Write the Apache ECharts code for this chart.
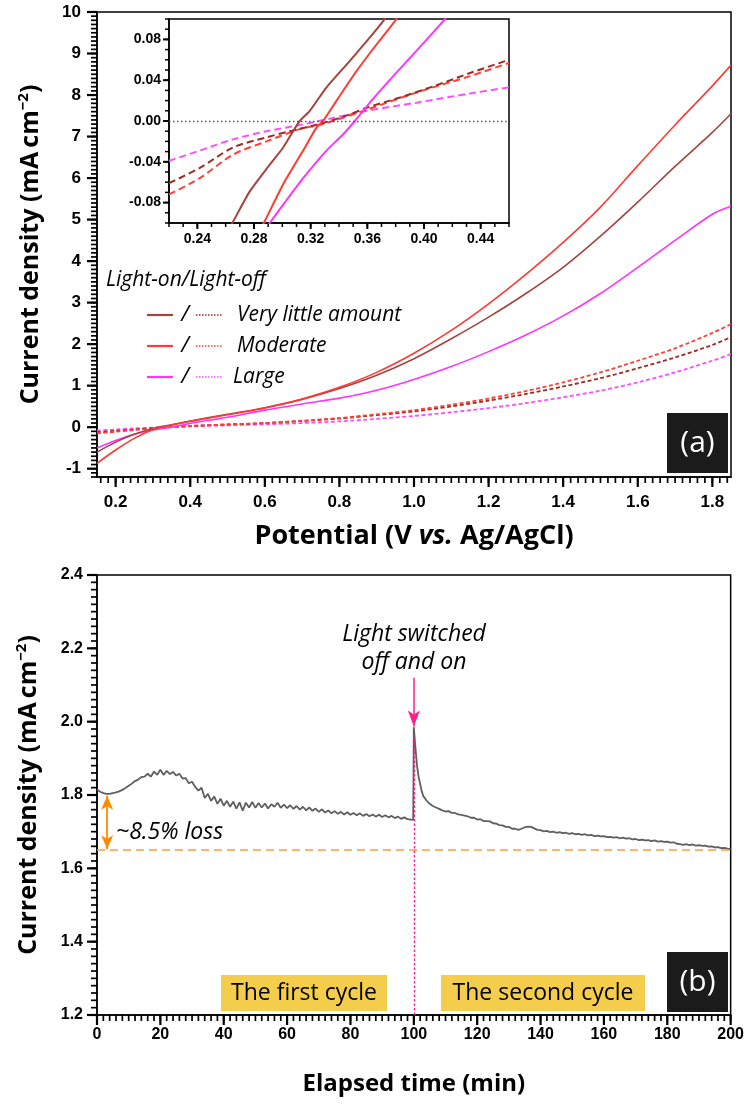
<!DOCTYPE html>
<html>
<head>
<meta charset="utf-8">
<script src="https://cdn.jsdelivr.net/npm/echarts@6.0.0/dist/echarts.min.js"></script>
<style>
html,body{margin:0;padding:0;background:#ffffff;}
#chart{width:747px;height:1112px;}
</style>
</head>
<body>
<div id="chart"></div>
<script>
// ================= Panel (a): current density vs potential =================
const potential = [0.15,0.2,0.25,0.3,0.35,0.4,0.5,0.6,0.7,0.8,0.9,1.0,1.1,1.2,1.3,1.4,1.5,1.6,1.7,1.8,1.85];
// light-on (solid)
const onVeryLittle = [-0.60,-0.36,-0.17,-0.03,0.06,0.15,0.31,0.47,0.67,0.93,1.25,1.65,2.13,2.65,3.22,3.85,4.60,5.42,6.28,7.10,7.55];
const onModerate   = [-0.87,-0.55,-0.27,-0.06,0.05,0.14,0.30,0.46,0.68,0.96,1.32,1.78,2.33,2.97,3.68,4.45,5.30,6.30,7.28,8.22,8.72];
const onLarge      = [-0.50,-0.32,-0.17,-0.07,0.00,0.09,0.24,0.41,0.56,0.70,0.89,1.15,1.46,1.82,2.22,2.68,3.22,3.85,4.50,5.13,5.32];
// light-off (dotted)
const offVeryLittle = [-0.12,-0.09,-0.055,-0.02,0.005,0.03,0.065,0.10,0.15,0.21,0.29,0.38,0.50,0.64,0.80,0.98,1.18,1.42,1.68,1.98,2.17];
const offModerate   = [-0.15,-0.11,-0.07,-0.025,0.0,0.028,0.065,0.10,0.155,0.22,0.31,0.41,0.54,0.69,0.87,1.08,1.32,1.60,1.90,2.27,2.48];
const offLarge      = [-0.08,-0.055,-0.03,-0.012,0.005,0.02,0.045,0.07,0.10,0.14,0.20,0.27,0.36,0.46,0.58,0.72,0.88,1.08,1.32,1.60,1.76];

const potentialTicks = [0.2,0.4,0.6,0.8,1.0,1.2,1.4,1.6,1.8];
const currentTicksA  = [-1,0,1,2,3,4,5,6,7,8,9,10];

// ================= Inset of panel (a) =================
const insetOnVeryLittleV = [0.262,0.2647,0.277,0.2888,0.3006,0.3076,0.3123,0.3194,0.3312,0.3477,0.3618,0.3712,0.374];
const insetOnVeryLittleJ = [-0.106,-0.100,-0.069,-0.047,-0.026,-0.010,0.000,0.010,0.033,0.059,0.082,0.098,0.104];
const insetOnModerateV = [0.284,0.2869,0.3006,0.3147,0.3241,0.3288,0.3383,0.3524,0.3665,0.3795,0.382];
const insetOnModerateJ = [-0.106,-0.100,-0.062,-0.029,-0.0065,0.000,0.020,0.049,0.075,0.098,0.103];
const insetOnLargeV = [0.288,0.2911,0.3006,0.3147,0.3312,0.343,0.3512,0.363,0.3783,0.3948,0.4137,0.416];
const insetOnLargeJ = [-0.106,-0.100,-0.082,-0.056,-0.029,-0.013,0.000,0.020,0.044,0.069,0.098,0.102];
const insetOffVeryLittleV = [0.22,0.2417,0.2652,0.2888,0.3053,0.3288,0.3477,0.3595,0.383,0.4066,0.4325,0.46];
const insetOffVeryLittleJ = [-0.061,-0.046,-0.026,-0.016,-0.010,-0.002,0.0065,0.013,0.023,0.034,0.047,0.060];
const insetOffModerateV = [0.22,0.2417,0.2652,0.2888,0.3123,0.3288,0.3595,0.3948,0.4325,0.46];
const insetOffModerateJ = [-0.072,-0.056,-0.033,-0.020,-0.008,-0.003,0.011,0.028,0.044,0.057];
const insetOffLargeV = [0.22,0.2417,0.2652,0.2888,0.3123,0.3359,0.3595,0.3948,0.4325,0.46];
const insetOffLargeJ = [-0.039,-0.029,-0.018,-0.010,-0.004,0.003,0.010,0.018,0.027,0.033];

const insetPotentialTicks = [0.24,0.28,0.32,0.36,0.40,0.44];
const insetCurrentTicks = [-0.08,-0.04,0,0.04,0.08];

// ================= Panel (b): stability over time =================
// first cycle, one reading per minute from t = 0 to 99 min
const firstCycle = [
 1.815,1.809,1.805,1.803,1.803,1.805,1.807,1.810,1.814,1.819,
 1.825,1.831,1.838,1.842,1.849,1.850,1.858,1.850,1.864,1.855,
 1.869,1.855,1.866,1.857,1.863,1.853,1.858,1.845,1.846,1.832,
 1.836,1.822,1.812,1.820,1.792,1.803,1.784,1.796,1.776,1.790,
 1.771,1.784,1.768,1.782,1.763,1.780,1.757,1.779,1.766,1.781,
 1.765,1.778,1.766,1.777,1.763,1.775,1.768,1.779,1.765,1.774,
 1.764,1.772,1.762,1.770,1.760,1.768,1.758,1.766,1.757,1.763,
 1.754,1.761,1.752,1.758,1.750,1.756,1.749,1.754,1.747,1.753,
 1.746,1.751,1.745,1.750,1.743,1.748,1.742,1.747,1.741,1.746,
 1.740,1.745,1.739,1.743,1.737,1.741,1.735,1.739,1.734,1.733];
// light switched off and on at 100 min
const switchTime  = [99.8,100,100.3,100.7,101,101.5,102,102.5,103,104,105,106,107,108];
const switchValue = [1.732,1.985,1.950,1.910,1.880,1.850,1.830,1.810,1.797,1.785,1.776,1.770,1.766,1.762];
// second cycle, one reading per minute from t = 109 to 200 min
const secondCycleStart = 109;
const secondCycle = [
 1.758,1.755,1.756,1.751,1.751,1.747,1.746,1.744,1.742,1.738,
 1.738,1.733,1.734,1.729,1.729,1.728,1.723,1.722,1.718,1.717,
 1.713,1.713,1.708,1.708,1.705,1.708,1.712,1.714,1.713,1.709,
 1.705,1.704,1.701,1.702,1.699,1.700,1.697,1.699,1.696,1.697,
 1.694,1.696,1.693,1.694,1.691,1.693,1.690,1.691,1.688,1.689,
 1.687,1.688,1.685,1.686,1.684,1.685,1.682,1.684,1.681,1.682,
 1.679,1.680,1.677,1.678,1.676,1.677,1.674,1.676,1.673,1.674,
 1.672,1.673,1.670,1.671,1.667,1.666,1.664,1.666,1.663,1.665,
 1.662,1.663,1.661,1.662,1.659,1.660,1.657,1.658,1.655,1.656,
 1.654,1.652];
const lossLevel = 1.65;
const initialLevel = 1.8;
const switchMinute = 100;

// ================= styling =================
const TICKFONT = 'Liberation Sans';
const TXTFONT = 'Open Sans';
const cBrown = '#A5443F', cRed = '#FF3A33', cMag = '#FF33FF';
const cBrownD = '#9E2B24', cRedD = '#FF4038', cMagD = '#FF4DFF';

function steps(a, b, s) {
  const out = [];
  const n = Math.round((b - a) / s);
  for (let i = 0; i <= n; i++) out.push(+(a + i * s).toFixed(4));
  return out;
}
const pairs = (xs, ys) => xs.map((x, i) => [x, ys[i]]);

function valueAxis(gridIndex, min, max, labelVals, fontSize, margin, fmt, extra) {
  return Object.assign({
    type: 'value', gridIndex, min, max,
    axisLine: {show: true, onZero: false, lineStyle: {color: '#000', width: 1.5}},
    axisTick: {show: false},
    axisLabel: {show: true, customValues: labelVals, color: '#000', fontFamily: TICKFONT, fontWeight: 'bold', fontSize, margin, formatter: fmt},
    splitLine: {show: false}
  }, extra || {});
}

const yTitleStyle = {
  fontFamily: TXTFONT, fontWeight: 'bold', fontSize: 25, color: '#000', lineHeight: 30,
  rich: {sup: {fontFamily: TXTFONT, fontWeight: 'bold', fontSize: 15, color: '#000', verticalAlign: 'top', lineHeight: 16}}
};
const yTitle = 'Current density (mA\u2009cm{sup|\u22122})';

const option = {
  animation: false,
  backgroundColor: '#ffffff',
  grid: [
    {left: 97, top: 12, width: 634, height: 465, show: true, borderColor: '#000', borderWidth: 1.5, backgroundColor: 'transparent'},
    {left: 169, top: 19, width: 340, height: 204, show: true, borderColor: '#000', borderWidth: 1.5, backgroundColor: '#ffffff'},
    {left: 97, top: 575, width: 636, height: 440, show: true, borderColor: '#000', borderWidth: 1.5, backgroundColor: 'transparent'}
  ],
  xAxis: [
    valueAxis(0, 0.15, 1.85, potentialTicks, 17, 17, v => v.toFixed(1), {
      name: 'Potential (V {it|vs.} Ag/AgCl)', nameLocation: 'middle', nameGap: 46,
      nameTextStyle: {fontFamily: TXTFONT, fontWeight: 'bold', fontSize: 27, color: '#000',
        rich: {it: {fontFamily: TXTFONT, fontWeight: 'bold', fontStyle: 'italic', fontSize: 27, color: '#000'}}}
    }),
    valueAxis(1, 0.22, 0.46, insetPotentialTicks, 14, 9, v => v.toFixed(2)),
    valueAxis(2, 0, 200, steps(0, 200, 20), 16, 12, v => String(v), {
      name: 'Elapsed time (min)', nameLocation: 'middle', nameGap: 57,
      nameTextStyle: {fontFamily: TXTFONT, fontWeight: 'bold', fontSize: 24, color: '#000'}
    })
  ],
  yAxis: [
    valueAxis(0, -1.2, 10, currentTicksA, 17, 16, v => String(v), {
      name: yTitle, nameLocation: 'middle', nameGap: 51, nameTextStyle: yTitleStyle
    }),
    valueAxis(1, -0.1, 0.1, insetCurrentTicks, 14, 8, v => v.toFixed(2)),
    valueAxis(2, 1.2, 2.4, steps(1.2, 2.4, 0.2), 16, 14, v => v.toFixed(1), {
      name: yTitle, nameLocation: 'middle', nameGap: 53, nameTextStyle: yTitleStyle
    })
  ],
  series: [],
  graphic: []
};

function lineSeries(xi, yi, data, color, width, dash, smooth) {
  return {
    type: 'line', xAxisIndex: xi, yAxisIndex: yi, data, showSymbol: false, symbol: 'none',
    smooth: smooth, silent: true, clip: true,
    lineStyle: {color, width, type: dash || 'solid'}
  };
}
// main panel (a)
option.series.push(
  lineSeries(0, 0, pairs(potential, offLarge), cMagD, 1.8, [4, 2.5], 0.3),
  lineSeries(0, 0, pairs(potential, offVeryLittle), cBrownD, 1.8, [4, 2.5], 0.3),
  lineSeries(0, 0, pairs(potential, offModerate), cRedD, 1.8, [4, 2.5], 0.3),
  lineSeries(0, 0, pairs(potential, onLarge), cMag, 1.6, null, 0.3),
  lineSeries(0, 0, pairs(potential, onVeryLittle), cBrown, 1.6, null, 0.3),
  lineSeries(0, 0, pairs(potential, onModerate), cRed, 1.6, null, 0.3)
);
// inset
const zeroLine = lineSeries(1, 1, [], '#555', 1, null, false);
zeroLine.markLine = {silent: true, symbol: 'none', label: {show: false}, lineStyle: {color: '#555', width: 1.3, type: [1.5, 2.5]}, data: [{yAxis: 0}]};
option.series.push(
  zeroLine,
  lineSeries(1, 1, pairs(insetOffLargeV, insetOffLargeJ), cMagD, 2, [7, 4], 0.3),
  lineSeries(1, 1, pairs(insetOffModerateV, insetOffModerateJ), cRedD, 2, [7, 4], 0.3),
  lineSeries(1, 1, pairs(insetOffVeryLittleV, insetOffVeryLittleJ), cBrownD, 2, [7, 4], 0.3),
  lineSeries(1, 1, pairs(insetOnLargeV, insetOnLargeJ), cMag, 2, null, 0.2),
  lineSeries(1, 1, pairs(insetOnModerateV, insetOnModerateJ), cRed, 2, null, 0.2),
  lineSeries(1, 1, pairs(insetOnVeryLittleV, insetOnVeryLittleJ), cBrown, 2, null, 0.2)
);
// panel (b)
const timeSeries = [];
firstCycle.forEach((v, i) => timeSeries.push([i, v]));
switchTime.forEach((t, i) => timeSeries.push([t, switchValue[i]]));
secondCycle.forEach((v, i) => timeSeries.push([secondCycleStart + i, v]));

function annot(data, color, width, type, symbols, size) {
  const s = lineSeries(2, 2, [], color, width, null, false);
  s.markLine = {silent: true, symbol: symbols, symbolSize: size, label: {show: false}, lineStyle: {color, width, type}, data};
  return s;
}
option.series.push(
  annot([{yAxis: lossLevel}], '#FF9A3C', 1.6, [8, 5], ['none', 'none'], 0),
  annot([[{coord: [switchMinute, 1.2]}, {coord: [switchMinute, 1.96]}]], '#FF1E8C', 1.4, [2.5, 2], ['none', 'none'], 0),
  lineSeries(2, 2, timeSeries, '#5F5F5F', 1.8, null, false),
  annot([[{coord: [switchMinute, 2.12]}, {coord: [switchMinute, 1.987]}]], '#FF1E8C', 1.5, 'solid', ['none', 'arrow'], [9, 16]),
  annot([[{coord: [3.2, initialLevel - 0.002]}, {coord: [3.2, lossLevel + 0.002]}]], '#FF8A00', 1.8, 'solid', ['arrow', 'arrow'], [9, 14])
);

// legend, labels and annotations
const G = [];
const italic = (size) => 'italic ' + size + 'px "' + TXTFONT + '"';
G.push({type: 'text', x: 106, y: 280, style: {text: 'Light-on/Light-off', font: italic(21), fill: '#000', verticalAlign: 'middle'}});
const legendRows = [
  {y: 315, on: cBrown, off: cBrownD, label: 'Very little amount', lx: 237},
  {y: 346, on: cRed, off: cRedD, label: 'Moderate', lx: 237},
  {y: 377, on: cMag, off: cMagD, label: 'Large', lx: 233}
];
legendRows.forEach(r => {
  G.push({type: 'line', shape: {x1: 147, y1: r.y, x2: 173, y2: r.y}, style: {stroke: r.on, lineWidth: 2.2}});
  G.push({type: 'text', x: 185, y: r.y, style: {text: '/', font: italic(22), fill: '#000', align: 'center', verticalAlign: 'middle'}});
  G.push({type: 'line', shape: {x1: 196, y1: r.y, x2: 223, y2: r.y}, style: {stroke: r.off, lineWidth: 1.7, lineDash: [1.5, 1.5]}});
  G.push({type: 'text', x: r.lx, y: r.y, style: {text: r.label, font: italic(21), fill: '#000', verticalAlign: 'middle'}});
});
// panel tags
[{y: 413, t: '(a)'}, {y: 952, t: '(b)'}].forEach(p => {
  G.push({type: 'rect', shape: {x: 667, y: p.y, width: 61, height: 60}, style: {fill: '#1B1B1B'}});
  G.push({type: 'text', x: 697.5, y: p.y + 30, style: {text: p.t, font: '30px "' + TXTFONT + '"', fill: '#fff', align: 'center', verticalAlign: 'middle'}});
});
// panel (b) texts
G.push({type: 'text', x: 414, y: 634, style: {text: 'Light switched', font: italic(23), fill: '#000', align: 'center', verticalAlign: 'middle'}});
G.push({type: 'text', x: 414, y: 662, style: {text: 'off and on', font: italic(23), fill: '#000', align: 'center', verticalAlign: 'middle'}});
G.push({type: 'text', x: 116, y: 832, style: {text: '~8.5% loss', font: italic(23), fill: '#000', verticalAlign: 'middle'}});
[{x: 221, w: 166, t: 'The first cycle'}, {x: 441, w: 204, t: 'The second cycle'}].forEach(b => {
  G.push({type: 'rect', shape: {x: b.x, y: 975, width: b.w, height: 36}, style: {fill: '#F5CD4C'}});
  G.push({type: 'text', x: b.x + b.w / 2, y: 993, style: {text: b.t, font: '23px "' + TXTFONT + '"', fill: '#000', align: 'center', verticalAlign: 'middle'}});
});
option.graphic = G;

const chart = echarts.init(document.getElementById('chart'), null, {renderer: 'canvas'});
chart.setOption(option);

// axis ticks, placed through the axes' own scales
const tickSegs = [];
function xTicks(ai, vals, len, w) {
  const y0 = chart.convertToPixel({yAxisIndex: ai}, option.yAxis[ai].min);
  vals.forEach(v => {
    const x = chart.convertToPixel({xAxisIndex: ai}, v);
    tickSegs.push({x1: x, y1: y0, x2: x, y2: y0 + len, w});
  });
}
function yTicks(ai, vals, len, w) {
  const x0 = chart.convertToPixel({xAxisIndex: ai}, option.xAxis[ai].min);
  vals.forEach(v => {
    const y = chart.convertToPixel({yAxisIndex: ai}, v);
    tickSegs.push({x1: x0, y1: y, x2: x0 - len, y2: y, w});
  });
}
xTicks(0, potentialTicks, 10, 2.2);
xTicks(0, steps(0.16, 1.84, 0.02), 6, 1.7);
yTicks(0, currentTicksA, 10, 2.2);
yTicks(0, steps(-1.2, 10, 0.1), 6, 1.7);
xTicks(1, insetPotentialTicks, 6, 2);
xTicks(1, steps(0.22, 0.46, 0.01), 4, 1.5);
yTicks(1, insetCurrentTicks, 6, 2);
yTicks(1, steps(-0.1, 0.1, 0.01), 4, 1.5);
xTicks(2, steps(0, 200, 20), 10, 2.2);
xTicks(2, steps(0, 200, 2), 6, 1.7);
yTicks(2, steps(1.2, 2.4, 0.2), 10, 2.2);
yTicks(2, steps(1.2, 2.4, 0.02), 6, 1.7);

// re-render with the tick marks as graphic elements
option.graphic = G.concat(tickSegs.map(s => ({type: 'line', shape: {x1: s.x1, y1: s.y1, x2: s.x2, y2: s.y2}, style: {stroke: '#000', lineWidth: s.w}})));
chart.setOption(option, true);
</script>
</body>
</html>
